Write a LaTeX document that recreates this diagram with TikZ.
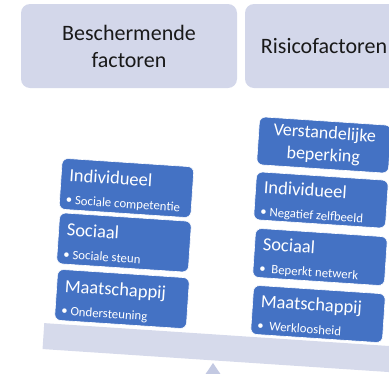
\documentclass[tikz,border=0pt]{standalone}
\usepackage{fontspec}
\setmainfont{Carlito}
\definecolor{kop}{HTML}{D3D7EA}
\definecolor{balk}{HTML}{D6DAEB}
\definecolor{blok}{HTML}{4472C4}
\definecolor{steun}{HTML}{C3C9E2}
\begin{document}
\begin{tikzpicture}[x=1pt,y=-1pt,
  kop/.style={fill=kop, rounded corners=9pt, minimum height=84pt, align=center, text=black!90, font=\fontsize{22}{27}\selectfont},
  blok/.style={fill=blok, draw=white, line width=0.6pt, rounded corners=6pt, minimum width=132pt},
  titel/.style={text=white, inner sep=0pt, anchor=base west, font=\fontsize{18.5}{21}\selectfont},
  punt/.style={text=white, inner sep=0pt, anchor=base west, font=\fontsize{12.8}{15}\selectfont}]
\useasboundingbox (0,0) rectangle (389,373);
\clip (0,0) rectangle (389,373);
\node[kop, minimum width=216pt] (bescherm) at (129,46) {Beschermende\\factoren};
\node[kop, minimum width=158pt] (risico) at (324,46) {Risicofactoren};
% wip
\fill[steun] (213,363) -- (190,397) -- (236,397) -- cycle;
\node[fill=balk, minimum width=360pt, minimum height=26pt, rotate=-3.8] (wip) at (223,348) {};
% blokken
\foreach \n/\x/\y/\hh/\h/\b in {
    ind/126.5/188/51/Individueel/Sociale competentie,
    soc/124/242.5/51/Sociaal/Sociale steun,
    maat/122/299/51/Maatschappij/Ondersteuning,
    rind/321/200/48/Individueel/Negatief zelfbeeld,
    rsoc/320/257/49/Sociaal/\ Beperkt netwerk,
    rmaat/318/314/49/Maatschappij/\ Werkloosheid}
{
  \begin{scope}[shift={(\x,\y)}, rotate=-3.8, transform shape]
    \node[blok, minimum height=\hh pt] (\n) at (0,0) {};
    \node[titel] at (-58,-3) {\h};
    \node[punt] at (-60,20) {\textbullet\ \b};
  \end{scope}
}
\begin{scope}[shift={(324,145)}, rotate=-3.8, transform shape]
  \node[blok, minimum height=48pt] (verst) at (0,0) {};
  \node[titel, anchor=center, align=center, font=\fontsize{18}{22}\selectfont] (verstekst) at (0,0) {Verstandelijke\\beperking};
\end{scope}
\end{tikzpicture}
\end{document}
